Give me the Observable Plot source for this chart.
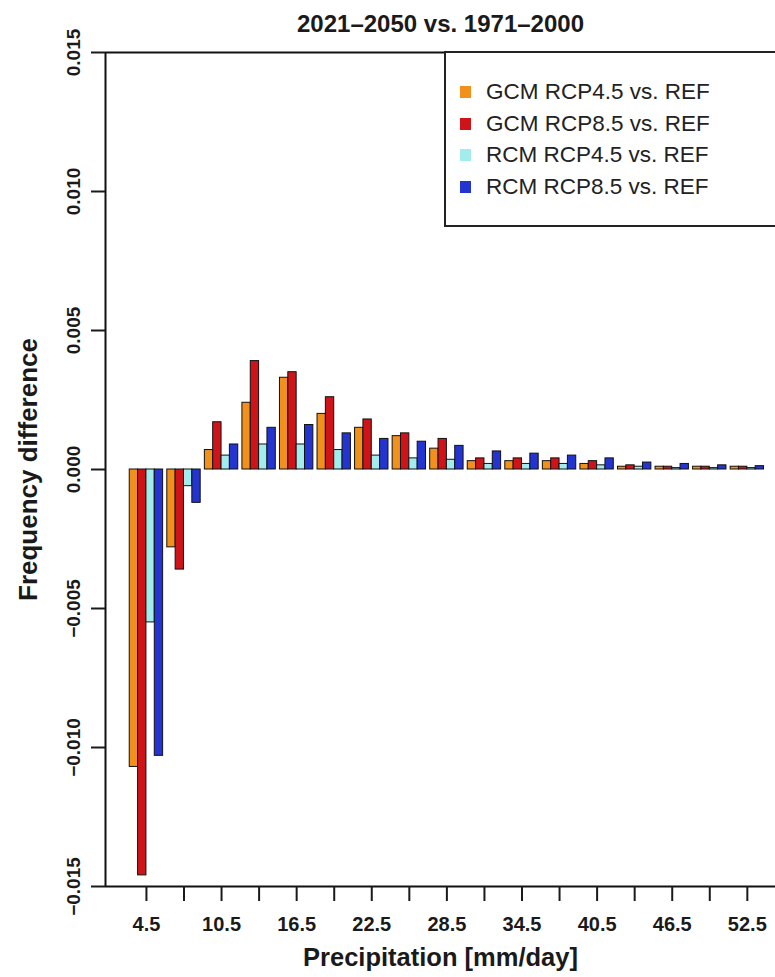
<!DOCTYPE html>
<html>
<head>
<meta charset="utf-8">
<script src="https://cdn.jsdelivr.net/npm/d3@7"></script>
<script src="https://cdn.jsdelivr.net/npm/@observablehq/plot@0.6"></script>
<style>
  html, body { margin: 0; padding: 0; background: #fff; overflow: hidden; }
  #wrap { position: relative; width: 775px; height: 977px; overflow: hidden; font-family: "Liberation Sans", Arial, sans-serif; }
  #legend { position: absolute; left: 444px; top: 51px; width: 345px; height: 176px; border: 2px solid #222; background: #fff; box-sizing: border-box; }
  .item { position: absolute; left: 14px; height: 24px; display: flex; align-items: center; font-size: 22.5px; color: #222; white-space: nowrap; }
  .sw { width: 11px; height: 12px; margin-right: 15px; }
</style>
</head>
<body>
<div id="wrap"><div id="chart"></div><div id="legend"></div></div>
<script>
// ---- data ----
const titleText = "2021–2050 vs. 1971–2000";
const xLabel = "Precipitation [mm/day]";
const yLabel = "Frequency difference";
const bins = [4.5, 7.5, 10.5, 13.5, 16.5, 19.5, 22.5, 25.5, 28.5, 31.5, 34.5, 37.5, 40.5, 43.5, 46.5, 49.5, 52.5];
const xTickLabels = ["4.5", "10.5", "16.5", "22.5", "28.5", "34.5", "40.5", "46.5", "52.5"];
const yTicks = [-0.015, -0.010, -0.005, 0.000, 0.005, 0.010, 0.015];
const seriesNames = ["GCM RCP4.5 vs. REF", "GCM RCP8.5 vs. REF", "RCM RCP4.5 vs. REF", "RCM RCP8.5 vs. REF"];
const seriesColors = ["#F2901C", "#CE1418", "#A3ECEE", "#2434D0"];
const gcm45 = [-0.0107, -0.0028, 0.0007, 0.0024, 0.0033, 0.0020, 0.0015, 0.0012, 0.00075, 0.0003, 0.0003, 0.0003, 0.0002, 0.0001, 0.0001, 0.0001, 0.0001];
const gcm85 = [-0.0146, -0.0036, 0.0017, 0.0039, 0.0035, 0.0026, 0.0018, 0.0013, 0.0011, 0.0004, 0.0004, 0.0004, 0.0003, 0.00015, 0.0001, 0.0001, 0.0001];
const rcm45 = [-0.0055, -0.0006, 0.0005, 0.0009, 0.0009, 0.0007, 0.0005, 0.0004, 0.00035, 0.0002, 0.0002, 0.0002, 0.00015, 0.0001, 0.00005, 0.00005, 0.00005];
const rcm85 = [-0.0103, -0.0012, 0.0009, 0.0015, 0.0016, 0.0013, 0.0011, 0.0010, 0.00085, 0.00065, 0.00057, 0.0005, 0.0004, 0.00025, 0.0002, 0.00015, 0.00012];

// ---- build table ----
const seriesValues = [gcm45, gcm85, rcm45, rcm85];
const barW = 3 / 4.5; // R barplot: 4 bars + half-bar gap per 3 mm/day bin
const table = [];
bins.forEach((b, i) => {
  seriesValues.forEach((vals, si) => {
    const x1 = b - 2 * barW + si * barW;
    table.push({bin: b, series: seriesNames[si], x1, x2: x1 + barW, value: vals[i]});
  });
});

const xDomain = [1.23, 54.75];
const yDomain = [-0.015, 0.015];
const fmt = d3.format(".3f");

const plot = Plot.plot({
  width: 775,
  height: 977,
  marginLeft: 105,
  marginRight: 0,
  marginTop: 52,
  marginBottom: 91,
  style: {fontFamily: "'Liberation Sans', Arial, sans-serif", fontWeight: "bold", color: "#1a1a1a", background: "#fff"},
  x: {domain: xDomain, axis: null},
  y: {domain: yDomain, axis: null},
  color: {domain: seriesNames, range: seriesColors},
  marks: [
    Plot.rect(table, {x1: "x1", x2: "x2", y1: () => 0, y2: "value", fill: "series", stroke: "#111", strokeWidth: 1}),
    Plot.ruleX([xDomain[0]], {stroke: "#111", strokeWidth: 2}),
    Plot.ruleY(yDomain, {stroke: "#111", strokeWidth: 2}),
    Plot.axisY({ticks: yTicks, tickSize: 14, tickFormat: () => "", strokeWidth: 2, label: null}),
    Plot.text(yTicks, {y: d => d, text: d => fmt(d), frameAnchor: "left", dx: -32, rotate: -90, lineAnchor: "middle", textAnchor: "middle", fontSize: 19}),
    Plot.axisX({ticks: bins, tickSize: 15, tickPadding: 15, strokeWidth: 2, fontSize: 20, label: null,
      tickFormat: d => { const s = d.toFixed(1); return xTickLabels.includes(s) ? s : ""; }}),
    Plot.text([titleText], {frameAnchor: "top", dy: -28, fontSize: 24, lineAnchor: "middle"}),
    Plot.text([xLabel], {frameAnchor: "bottom", dy: 71, fontSize: 25.5, lineAnchor: "middle"}),
    Plot.text([yLabel], {frameAnchor: "left", dx: -77, rotate: -90, fontSize: 26, lineAnchor: "middle", textAnchor: "middle"})
  ]
});
document.getElementById("chart").appendChild(plot);

// ---- legend ----
const legend = document.getElementById("legend");
const rowTops = [27, 59, 90, 122];
seriesNames.forEach((name, i) => {
  const it = document.createElement("div");
  it.className = "item";
  it.style.top = rowTops[i] + "px";
  const sw = document.createElement("span");
  sw.className = "sw";
  sw.style.background = seriesColors[i];
  const tx = document.createElement("span");
  tx.textContent = name;
  it.appendChild(sw);
  it.appendChild(tx);
  legend.appendChild(it);
});
</script>
</body>
</html>
